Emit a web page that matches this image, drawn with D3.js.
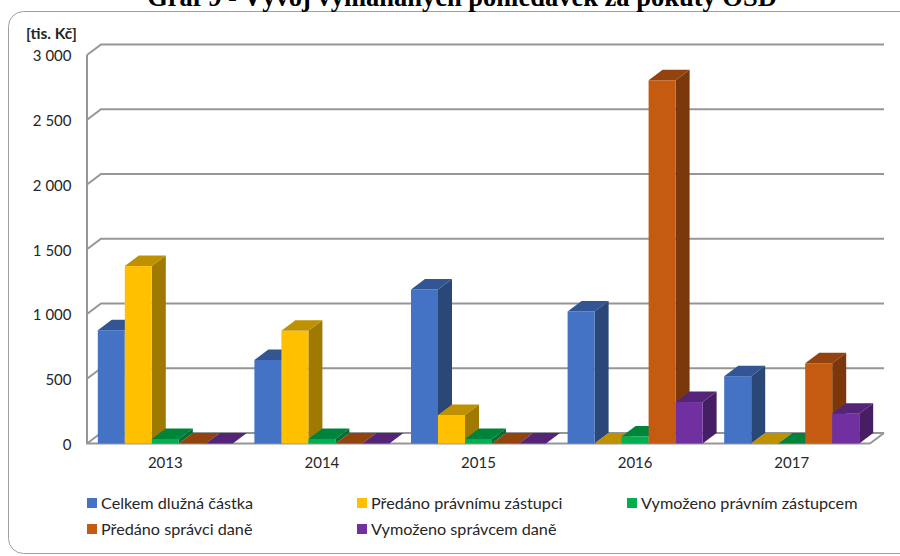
<!DOCTYPE html>
<html>
<head>
<meta charset="utf-8">
<script src="https://cdn.jsdelivr.net/npm/d3@7"></script>
<style>
  html, body { margin: 0; padding: 0; background: #fff; overflow: hidden; }
  svg { display: block; }
  .chartText { font-family: Lato, "Noto Sans", sans-serif; fill: #262626; }
  .axis path, .axis line { display: none; }
</style>
</head>
<body>
<svg id="chart" width="900" height="556"></svg>
<script>
const years = ['2013', '2014', '2015', '2016', '2017'];
const seriesNames = ['Celkem dlužná částka', 'Předáno právnímu zástupci', 'Vymoženo právním zástupcem', 'Předáno správci daně', 'Vymoženo správcem daně'];
const celkem = [875, 645, 1190, 1020, 520];
const pravnimu = [1370, 870, 220, 0, 0];
const vymozenoPravnim = [35, 35, 35, 55, 0];
const spravci = [0, 0, 0, 2805, 620];
const vymozenoSpravcem = [0, 0, 0, 320, 230];
const seriesValues = [celkem, pravnimu, vymozenoPravnim, spravci, vymozenoSpravcem];
const yTicks = [0, 500, 1000, 1500, 2000, 2500, 3000];
const yTickLabels = ['0', '500', '1 000', '1 500', '2 000', '2 500', '3 000'];

const colors = ['#4472c4', '#ffc000', '#00b050', '#c55a11', '#7030a0'];
const topColors = ['#335593', '#bf9000', '#00843c', '#93430d', '#542478'];
const sideColors = ['#2a4778', '#a07900', '#006f32', '#7b380b', '#461e64'];

const svg = d3.select('#chart');

let plot = { left: 87, right: 870, top: 55, bottom: 443.5 };
let depth = { x: 14, y: 10.5 };

let yScale = d3.scaleLinear().domain([0, 3000]).range([plot.bottom, plot.top]);
let xScale = d3.scaleBand().domain(years).range([plot.left, plot.right]);
let barScale = d3.scaleBand().domain(d3.range(seriesNames.length))
  .range([0, xScale.bandwidth()]).paddingOuter(0.4);

// frame, cut off by the picture on the right
svg.append('rect')
  .attr('x', 8.5).attr('y', 11.5)
  .attr('width', 960).attr('height', 542)
  .attr('rx', 15)
  .attr('fill', '#fff')
  .attr('stroke', '#a0a0a0')
  .attr('stroke-width', 1);

// title, cut off at the top as in the reference
svg.append('text')
  .attr('x', 462).attr('y', 5.5)
  .attr('text-anchor', 'middle')
  .style('font-family', '"Liberation Serif", serif')
  .style('font-weight', 'bold')
  .style('font-size', '26.5px')
  .text('Graf 9 - Vývoj vymáhaných pohledávek za pokuty OSD');

svg.append('text')
  .attr('class', 'chartText')
  .attr('x', 26).attr('y', 39)
  .style('font-size', '15.5px')
  .style('font-weight', 'bold')
  .text('[tis. Kč]');

// walls
let walls = svg.append('g')
  .attr('fill', 'none')
  .attr('stroke', '#969696')
  .attr('stroke-width', 2);

walls.selectAll('.grid')
  .data(yTicks)
  .enter()
  .append('path')
  .attr('class', 'grid')
  .attr('d', d => {
    let y = yScale(d);
    return `M${plot.left},${y}L${plot.left + depth.x},${y - depth.y}H${plot.right + depth.x}`;
  });

walls.append('path')
  .attr('d', `M${plot.right},${plot.bottom}L${plot.right + depth.x},${plot.bottom - depth.y}`);

walls.append('path')
  .attr('d', `M${plot.left},${plot.top}V${plot.bottom}H${plot.right}`);

// bars, left to right so the nearer bar covers the side of the one before
let bars = svg.append('g');

years.forEach((year, i) => {
  seriesNames.forEach((name, s) => {
    let x0 = xScale(year) + barScale(s);
    let x1 = x0 + barScale.bandwidth();
    let y0 = yScale(seriesValues[s][i]);
    let g = bars.append('g');

    g.append('path')
      .attr('d', `M${x1},${y0}L${x1 + depth.x},${y0 - depth.y}V${plot.bottom - depth.y}L${x1},${plot.bottom}Z`)
      .attr('fill', sideColors[s]);

    g.append('path')
      .attr('d', `M${x0},${y0}L${x0 + depth.x},${y0 - depth.y}H${x1 + depth.x}L${x1},${y0}Z`)
      .attr('fill', topColors[s]);

    g.append('rect')
      .attr('x', x0).attr('y', y0)
      .attr('width', x1 - x0)
      .attr('height', plot.bottom - y0)
      .attr('fill', colors[s]);
  });
});

// axes
svg.append('g')
  .attr('class', 'axis chartText')
  .attr('transform', `translate(${plot.left - 15.5},1)`)
  .call(d3.axisLeft(yScale).tickValues(yTicks).tickSize(0).tickPadding(0)
    .tickFormat((d, i) => yTickLabels[i]))
  .call(g => g.selectAll('text')
    .style('font-family', 'Lato, "Noto Sans", sans-serif')
    .style('font-size', '15px')
    .attr('fill', '#262626'));

svg.append('g')
  .attr('class', 'axis chartText')
  .attr('transform', `translate(0,${plot.bottom + 14})`)
  .call(d3.axisBottom(xScale).tickSize(0).tickPadding(0))
  .call(g => g.selectAll('text')
    .style('font-family', 'Lato, "Noto Sans", sans-serif')
    .style('font-size', '15px')
    .attr('fill', '#262626'));

// legend
let legendX = d3.scaleOrdinal().domain(seriesNames).range([87, 357, 627, 87, 357]);
let legendY = d3.scaleOrdinal().domain(seriesNames).range([503, 503, 503, 529, 529]);

let legend = svg.append('g')
  .selectAll('g')
  .data(seriesNames)
  .enter()
  .append('g')
  .attr('transform', d => `translate(${legendX(d)},${legendY(d)})`);

legend.append('rect')
  .attr('x', 0).attr('y', -5)
  .attr('width', 10).attr('height', 10)
  .attr('fill', (d, i) => colors[i]);

legend.append('text')
  .attr('class', 'chartText')
  .attr('x', 14).attr('y', 5.5)
  .style('font-size', '16.2px')
  .text(d => d);
</script>
</body>
</html>
